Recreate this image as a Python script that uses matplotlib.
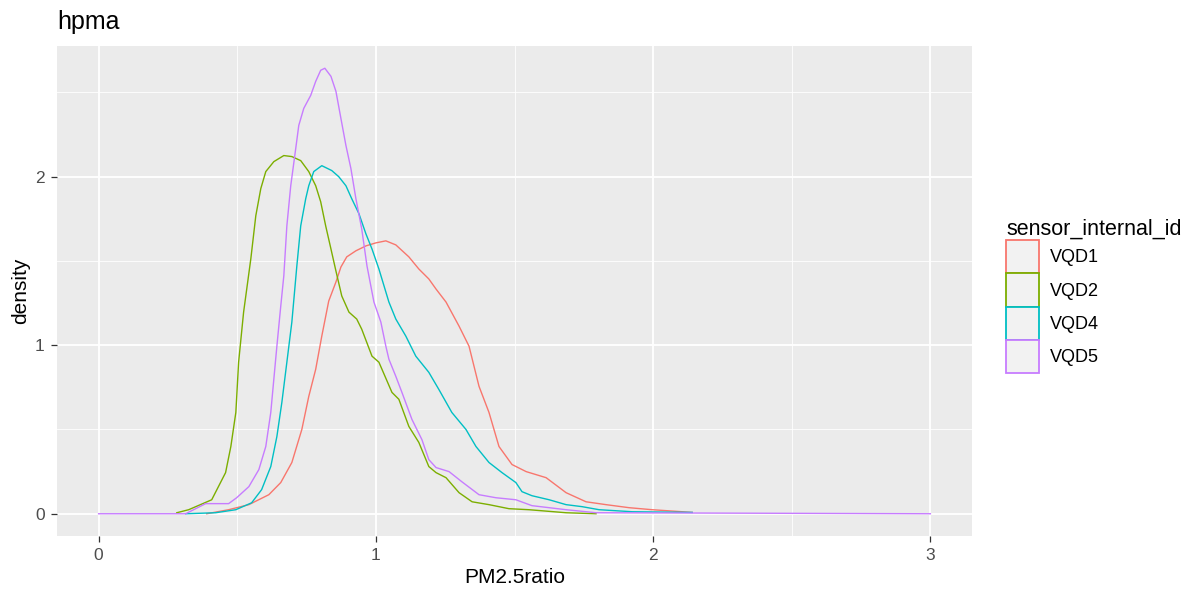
import numpy as np
import matplotlib
matplotlib.use("Agg")
import matplotlib.pyplot as plt
from matplotlib.patches import Patch

plt.rcParams['font.family'] = ['Liberation Sans', 'DejaVu Sans']

# density curves (x = PM2.5ratio, y = density)
vqd1_x = [0.39, 0.469, 0.542, 0.614, 0.657, 0.697, 0.733, 0.758, 0.783, 0.805, 0.83, 0.856, 0.874, 0.895,
          0.928, 0.964, 1.0, 1.036, 1.072, 1.119, 1.155, 1.191, 1.217, 1.253, 1.3, 1.336, 1.372, 1.408,
          1.444, 1.491, 1.542, 1.614, 1.686, 1.758, 1.83, 1.913, 1.996, 2.141]
vqd1_y = [0.0, 0.024, 0.054, 0.113, 0.185, 0.304, 0.5, 0.696, 0.857, 1.054, 1.262, 1.375, 1.464, 1.524,
          1.56, 1.589, 1.607, 1.619, 1.595, 1.524, 1.452, 1.393, 1.333, 1.256, 1.113, 0.994, 0.756, 0.601,
          0.399, 0.292, 0.25, 0.214, 0.125, 0.071, 0.054, 0.036, 0.024, 0.008]

vqd2_x = [0.282, 0.325, 0.408, 0.458, 0.477, 0.495, 0.505, 0.523, 0.549, 0.567, 0.585, 0.603, 0.632,
          0.668, 0.697, 0.729, 0.758, 0.783, 0.801, 0.819, 0.838, 0.856, 0.877, 0.903, 0.931, 0.949,
          0.986, 1.011, 1.058, 1.083, 1.119, 1.155, 1.191, 1.217, 1.253, 1.3, 1.347, 1.408, 1.48,
          1.552, 1.686, 1.794]
vqd2_y = [0.006, 0.024, 0.083, 0.244, 0.399, 0.601, 0.899, 1.196, 1.512, 1.768, 1.929, 2.03, 2.089,
          2.125, 2.119, 2.095, 2.03, 1.946, 1.851, 1.708, 1.571, 1.44, 1.292, 1.196, 1.155, 1.095,
          0.935, 0.899, 0.72, 0.679, 0.518, 0.423, 0.28, 0.244, 0.214, 0.125, 0.071, 0.054, 0.03,
          0.024, 0.006, 0.0]

vqd4_x = [0.314, 0.422, 0.495, 0.552, 0.588, 0.621, 0.643, 0.661, 0.679, 0.697, 0.715, 0.729, 0.747,
          0.758, 0.776, 0.805, 0.841, 0.866, 0.892, 0.913, 0.939, 0.964, 0.986, 1.011, 1.047, 1.072,
          1.108, 1.144, 1.191, 1.227, 1.274, 1.325, 1.361, 1.408, 1.455, 1.505, 1.527, 1.563, 1.625,
          1.686, 1.744, 1.805, 1.924, 2.141]
vqd4_y = [0.0, 0.006, 0.024, 0.065, 0.143, 0.28, 0.458, 0.661, 0.899, 1.137, 1.47, 1.708, 1.869,
          1.946, 2.03, 2.065, 2.036, 2.0, 1.946, 1.869, 1.78, 1.661, 1.571, 1.452, 1.256, 1.155,
          1.054, 0.935, 0.839, 0.738, 0.601, 0.5, 0.399, 0.304, 0.244, 0.185, 0.131, 0.107, 0.083,
          0.054, 0.042, 0.024, 0.012, 0.008]

vqd5_x = [0.0, 0.314, 0.386, 0.469, 0.498, 0.542, 0.578, 0.603, 0.621, 0.632, 0.643, 0.657, 0.668,
          0.679, 0.693, 0.711, 0.722, 0.74, 0.765, 0.783, 0.801, 0.816, 0.838, 0.856, 0.874, 0.892,
          0.91, 0.928, 0.949, 0.968, 0.993, 1.018, 1.036, 1.047, 1.072, 1.094, 1.13, 1.166, 1.191,
          1.217, 1.264, 1.31, 1.372, 1.433, 1.505, 1.563, 1.686, 1.794, 3.0]
vqd5_y = [0.0, 0.0, 0.06, 0.06, 0.095, 0.161, 0.262, 0.399, 0.601, 0.798, 0.994, 1.232, 1.411,
          1.708, 1.946, 2.167, 2.304, 2.405, 2.482, 2.565, 2.631, 2.643, 2.595, 2.506, 2.345, 2.185,
          2.048, 1.869, 1.69, 1.47, 1.256, 1.137, 0.994, 0.917, 0.815, 0.72, 0.56, 0.44, 0.321,
          0.274, 0.25, 0.19, 0.113, 0.095, 0.083, 0.048, 0.024, 0.006, 0.0]

labels = ['VQD1', 'VQD2', 'VQD4', 'VQD5']
colors = ['#F8766D', '#7CAE00', '#00BFC4', '#C77CFF']
series = [(vqd1_x, vqd1_y), (vqd2_x, vqd2_y), (vqd4_x, vqd4_y), (vqd5_x, vqd5_y)]

fig = plt.figure(figsize=(11.97, 5.93), dpi=100)
ax = fig.add_axes([57 / 1197, 57 / 593, (972 - 57) / 1197, (536 - 46) / 593])
ax.set_facecolor('#EBEBEB')

for (xs, ys), c in zip(series, colors):
    ax.plot(xs, ys, color=c, lw=1.0)

ax.set_xlim(-0.15, 3.15)
ax.set_ylim(-0.132, 2.775)
ax.set_xticks([0, 1, 2, 3])
ax.set_yticks([0, 1, 2])
ax.set_xticks([0.5, 1.5, 2.5], minor=True)
ax.set_yticks([0.5, 1.5, 2.5], minor=True)
ax.grid(which='major', color='white', lw=1.3)
ax.grid(which='minor', color='white', lw=0.6)
ax.set_axisbelow(True)
for s in ax.spines.values():
    s.set_visible(False)
ax.tick_params(which='major', length=4, width=0.9, color='#333333', labelcolor='#4D4D4D',
               labelsize=12.5, pad=5)
ax.tick_params(which='minor', length=0)

ax.set_xlabel('PM2.5ratio', fontsize=15, color='black', labelpad=3)
ax.set_ylabel('density', fontsize=15, color='black', labelpad=3)
ax.set_title('hpma', fontsize=18, loc='left', pad=12)

handles = [Patch(facecolor='#F2F2F2', edgecolor=c, lw=1.3) for c in colors]
leg = fig.legend(handles, labels, title='sensor_internal_id', loc='center left',
                 bbox_to_anchor=(1006 / 1197, 1 - 296 / 593), frameon=False, fontsize=13,
                 title_fontsize=15.5, handlelength=1.83, handleheight=2.44, labelspacing=0.02,
                 handletextpad=0.6, borderaxespad=0, borderpad=0)
leg._legend_box.align = 'left'

fig.savefig('out.png', dpi=100)
